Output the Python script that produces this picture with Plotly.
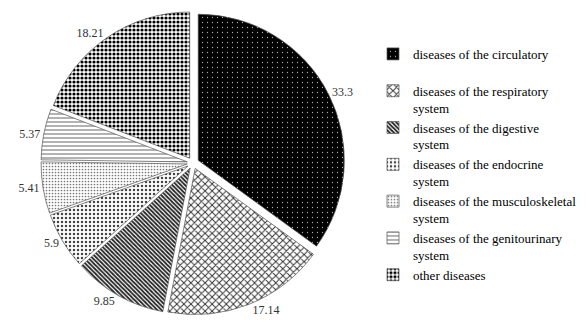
import plotly.graph_objects as go

labels = [
    "diseases of the circulatory<br>\u00a0",
    "diseases of the respiratory<br>system",
    "diseases of the digestive<br>system",
    "diseases of the endocrine<br>system",
    "diseases of the musculoskeletal<br>system",
    "diseases of the genitourinary<br>system",
    "other diseases",
]
values = [33.3, 17.14, 9.85, 5.9, 5.41, 5.37, 18.21]

shapes = [".", "x", "\\", ".", ".", "-", "."]
bgcolors = ["black", "white", "white", "white", "white", "white", "white"]
fgcolors = ["#aaaaaa", "#333333", "#222222", "#444444", "#777777", "#666666", "black"]
sizes = [5, 5, 3, 4, 3, 4, 4]
solidities = [0.05, 0.35, 0.6, 0.3, 0.25, 0.25, 0.5]

fig = go.Figure(go.Pie(
    labels=labels,
    values=values,
    sort=False,
    direction="clockwise",
    rotation=0,
    pull=[0.04] * len(values),
    textinfo="value",
    textposition="outside",
    automargin=False,
    textfont=dict(family="Liberation Serif", size=12, color="#333333"),
    marker=dict(
        colors=bgcolors,
        line=dict(color="#555555", width=0.7),
        pattern=dict(shape=shapes, bgcolor=bgcolors, fgcolor=fgcolors,
                     size=sizes, solidity=solidities, fillmode="replace"),
    ),
    domain=dict(x=[0, 386/586], y=[0, 1]),
    hoverinfo="label+value",
))

fig.update_layout(
    width=586, height=322,
    margin=dict(l=0, r=0, t=11, b=7, autoexpand=False),
    paper_bgcolor="white",
    plot_bgcolor="white",
    showlegend=True,
    legend=dict(
        x=373/586, xanchor="left",
        y=0.908, yanchor="top",
        font=dict(family="Liberation Serif", size=13, color="black"),
        valign="top",
        tracegroupgap=0,
        itemclick=False,
    ),
)

fig.write_html("out.html")
